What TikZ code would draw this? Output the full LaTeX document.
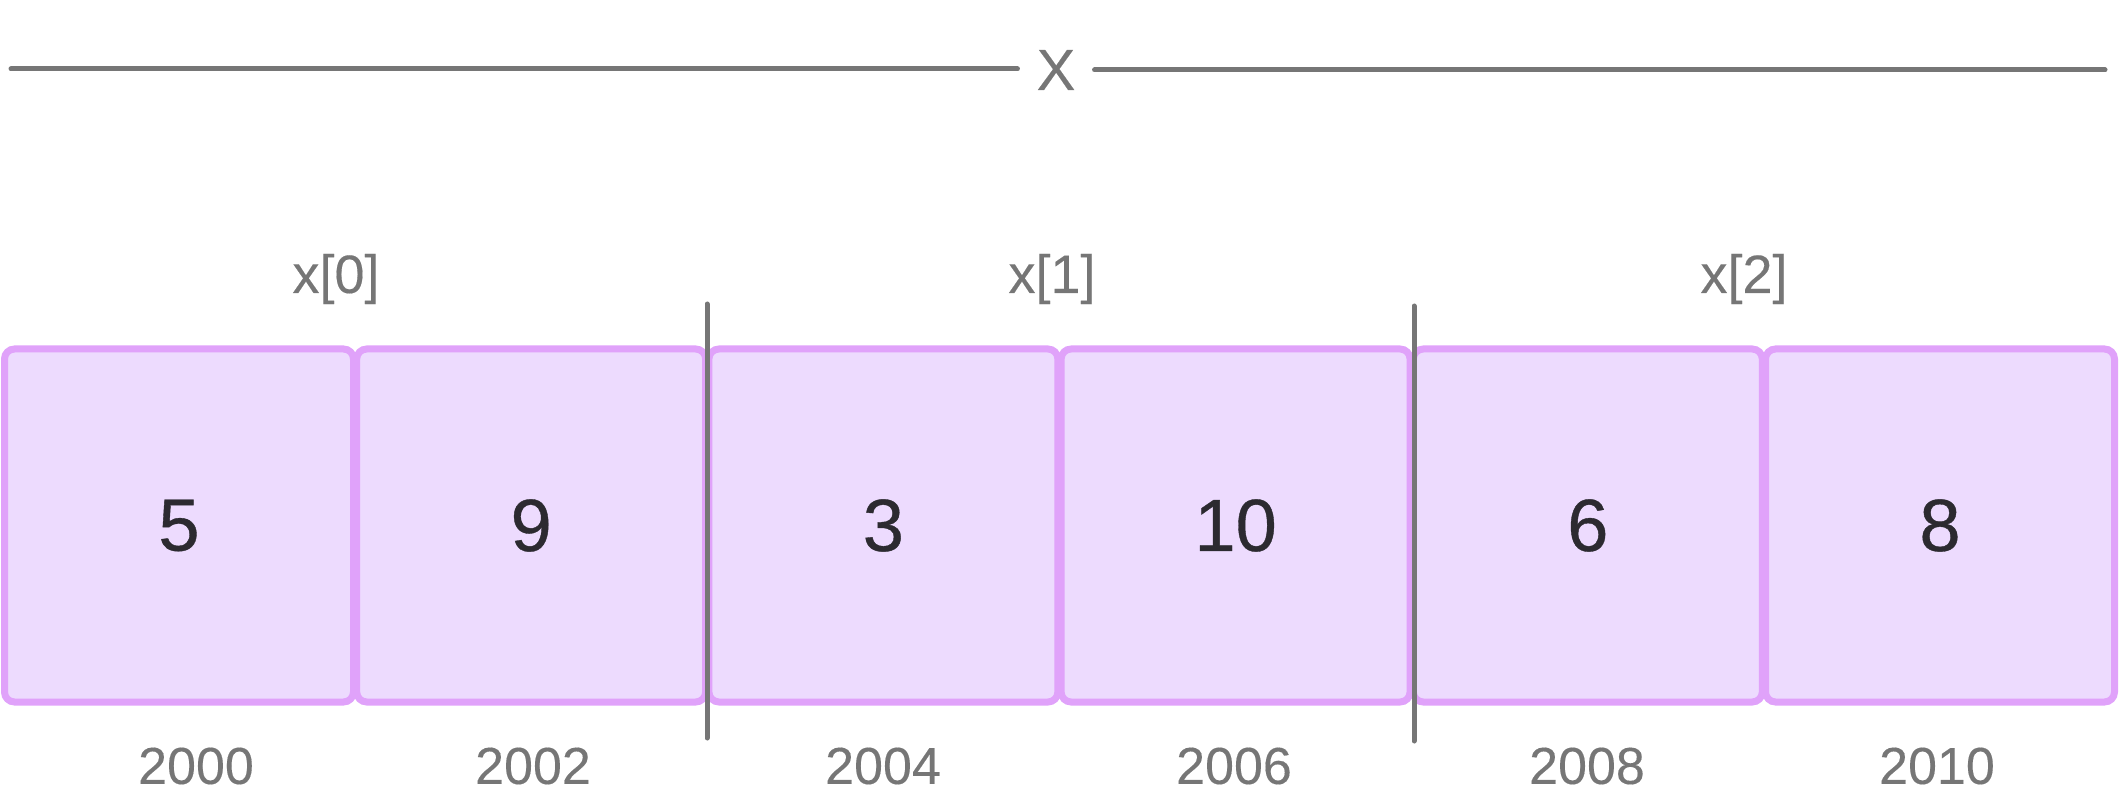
\documentclass[tikz,border=0pt]{standalone}
\usepackage{fontspec}
\setmainfont{Liberation Sans}
\newfontfamily\numfont[FakeBold=0.5]{Liberation Sans}
\newfontfamily\labfont[FakeBold=0.25]{Liberation Sans}
\definecolor{cellfill}{HTML}{EDDBFE}
\definecolor{cellline}{HTML}{E0A2FA}
\definecolor{ink}{HTML}{2C2A30}
\definecolor{greyline}{HTML}{767676}
\tikzset{
  cell/.style={draw=cellline, fill=cellfill, line width=7pt, rounded corners=10pt,
    minimum width=349pt, minimum height=353pt, inner sep=0pt, outer sep=0pt,
    text=ink, font=\numfont\fontsize{74}{86}\selectfont},
  addr/.style={text=greyline, font=\labfont\fontsize{52}{60}\selectfont, inner sep=0pt},
  idx/.style={text=greyline, font=\labfont\fontsize{54}{62}\selectfont, inner sep=0pt},
  rule/.style={draw=greyline, line width=5pt, line cap=round},
}
\begin{document}
\begin{tikzpicture}[x=1pt,y=-1pt]
\useasboundingbox (0,0) rectangle (2120,799);
% top span
\node[text=greyline, font=\labfont\fontsize{58}{66}\selectfont, inner xsep=19pt, inner ysep=0pt] (X) at (1056,70) {X};
\coordinate (L) at (11,69);
\coordinate (R) at (2105,70);
\draw[rule] (L) -- (L -| X.west);
\draw[rule] (X.east |- R) -- (R);
% cells
\foreach \i/\v in {0/5,1/9,2/3,3/10,4/6,5/8}{
  \node[cell] (c\i) at ({179+352.2*\i},525.5) {\v};
}
% addresses
\foreach \i/\a/\xx in {0/2000/196,1/2002/533,2/2004/883,3/2006/1234,4/2008/1587,5/2010/1937}{
  \node[addr] (a\i) at (\xx,766) {\a};
}
% index labels
\node[idx] (x0) at (336,279) {x[0]};
\node[idx] (x1) at (1052,279) {x[1]};
\node[idx] (x2) at (1744,279) {x[2]};
% dividers
\coordinate (d1t) at (707,304);
\coordinate (d1b) at (707,738);
\coordinate (d2t) at (1414,306);
\coordinate (d2b) at (1414,741);
\draw[rule] (d1t) -- (d1b);
\draw[rule] (d2t) -- (d2b);
\end{tikzpicture}
\end{document}
